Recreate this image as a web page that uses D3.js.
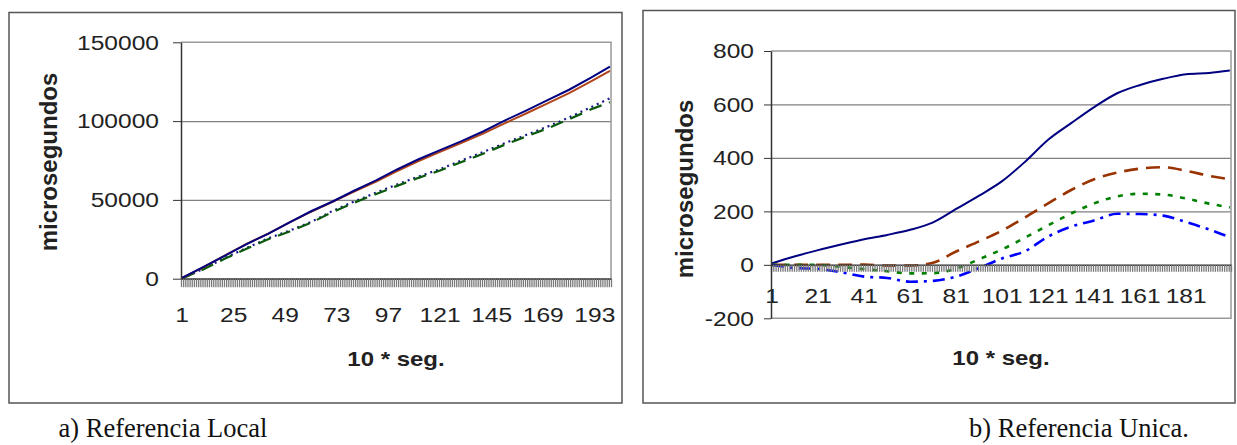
<!DOCTYPE html>
<html>
<head>
<meta charset="utf-8">
<script src="https://cdn.jsdelivr.net/npm/d3@7"></script>
<style>
body { margin: 0; background: #fff; }
svg { display: block; font-family: "Liberation Sans", Arial, sans-serif; }
</style>
</head>
<body>
<svg id="fig" width="1237" height="445"></svg>
<script>
// 200 samples on the x axis (10 * seg.)
let nCats = 200;
let categories = d3.range(1, nCats + 1);

let sampleCats = [1, 11, 21, 31, 41, 51, 61, 71, 81, 91, 101, 111, 121, 131, 141, 151, 161, 171, 181, 191, 200];

// a) Referencia Local
let localNavy  = [500, 7500, 14700, 22000, 28500, 35800, 42800, 49000, 55800, 62200, 69300, 75800, 81600, 87300, 93400, 100300, 106700, 113300, 119900, 127500, 134500];
let localBrown = [500, 7400, 14800, 22100, 28600, 35700, 42500, 48700, 55200, 61500, 68300, 74700, 80500, 86200, 92000, 98600, 104800, 111200, 117700, 125000, 131900];
let localBlue  = [300, 6300, 13200, 19500, 25600, 30500, 36000, 43000, 49000, 54500, 59800, 64800, 69500, 75000, 80300, 86000, 91200, 96500, 102300, 108700, 114500];
let localGreen = [200, 6000, 12800, 19000, 25000, 30000, 35500, 42300, 48200, 53600, 58900, 64000, 68700, 74000, 79300, 85000, 90200, 95400, 101200, 107300, 112000];

// b) Referencia Unica
let unicaNavy  = [6, 32, 55, 76, 96, 112, 131, 159, 209, 259, 313, 386, 468, 530, 590, 642, 673, 696, 713, 718, 727];
let unicaBrown = [0, 0, 0, 0, 1, -3, -3, 8, 50, 88, 128, 178, 230, 280, 320, 345, 360, 365, 352, 333, 320];
let unicaGreen = [0, 0, 0, -8, -16, -24, -32, -31, -14, 21, 58, 102, 148, 192, 230, 256, 266, 263, 248, 229, 215];
let unicaBlue  = [0, -12, -15, -28, -44, -49, -63, -60, -44, -12, 24, 51, 106, 143, 166, 191, 190, 184, 160, 132, 103];

let localXTicks = [1, 25, 49, 73, 97, 121, 145, 169, 193];
let unicaXTicks = [1, 21, 41, 61, 81, 101, 121, 141, 161, 181];
let localYTicks = [0, 50000, 100000, 150000];
let unicaYTicks = [-200, 0, 200, 400, 600, 800];

let SX = 1.17; // the chart pictures are stretched sideways

let svg = d3.select("#fig");

function stretch(sel) {
	sel.attr("transform", function() {
		let tx = +this.getAttribute("x") || 0;
		return `translate(${tx},0) scale(${SX},1) translate(${-tx},0)`;
	});
}

function toPoints(vals) {
	return sampleCats.map((c, i) => ({ c: c, v: vals[i] }));
}

function drawChart(c) {
	let g = svg.append("g");

	g.append("rect")
		.attr("x", c.frame[0]).attr("y", c.frame[1])
		.attr("width", c.frame[2]).attr("height", c.frame[3])
		.attr("fill", "none").attr("stroke", "#555").attr("stroke-width", 1.5);

	let x = d3.scaleLinear().domain([0.5, nCats + 0.5]).range([c.l, c.r]);
	let y = d3.scaleLinear().domain(c.yDomain).range([c.b, c.t]);

	// grid lines
	g.append("g")
		.attr("transform", `translate(${c.l},0)`)
		.call(d3.axisLeft(y).tickValues(c.grid).tickSize(-(c.r - c.l)).tickFormat(""))
		.call(a => a.select(".domain").remove())
		.selectAll("line").attr("stroke", "#808080").attr("stroke-width", 1.2);

	// plot border
	g.append("path")
		.attr("d", `M${c.l},${c.t}H${c.r}V${c.b}H${c.l}`)
		.attr("fill", "none").attr("stroke", "#999").attr("stroke-width", 1.5);

	// series
	let line = d3.line().x(d => x(d.c)).y(d => y(d.v)).curve(c.curve);
	c.series.forEach(s => {
		g.append("path")
			.datum(toPoints(s.values))
			.attr("d", line)
			.attr("fill", "none")
			.attr("stroke", s.color)
			.attr("stroke-width", s.width)
			.attr("stroke-dasharray", s.dash);
	});

	// x axis at zero, one tick between every category
	let xa = g.append("g")
		.attr("transform", `translate(0,${y(0)})`)
		.call(d3.axisBottom(x).tickValues(d3.range(0.5, nCats + 1, 1)).tickSize(c.xTickLen).tickSizeOuter(0).tickFormat(""));
	xa.selectAll(".tick line").attr("stroke", "#7a7a7a").attr("stroke-width", 1.3);
	xa.select(".domain").attr("stroke", "#333").attr("stroke-width", 1.5);

	g.selectAll(".xlab")
		.data(c.xTicks)
		.join("text")
		.attr("x", d => x(d))
		.attr("y", c.xLabelY)
		.attr("text-anchor", "middle")
		.attr("dominant-baseline", "central")
		.attr("font-size", 21)
		.attr("fill", "#222")
		.text(d => d)
		.call(stretch);

	// y axis
	let ya = g.append("g")
		.attr("transform", `translate(${c.l},0)`)
		.call(d3.axisLeft(y).tickValues(c.yTicks).tickSize(c.yTickLen).tickSizeOuter(0)
			.tickPadding(c.yPad).tickFormat(d => String(d)));
	ya.attr("font-size", 21).attr("font-family", null);
	ya.select(".domain").attr("stroke", "#333").attr("stroke-width", 1.5);
	ya.selectAll(".tick line").attr("stroke", "#333");
	ya.selectAll("text").attr("fill", "#222").call(stretch);

	// titles
	g.append("text")
		.attr("transform", `translate(${c.yTitle[0]},${c.yTitle[1]}) rotate(-90)`)
		.attr("text-anchor", "middle")
		.attr("dominant-baseline", "central")
		.attr("font-size", 24)
		.attr("font-weight", "bold")
		.attr("fill", "#222")
		.text("microsegundos");

	g.append("text")
		.attr("x", c.xTitle[0]).attr("y", c.xTitle[1])
		.attr("text-anchor", "middle")
		.attr("dominant-baseline", "central")
		.attr("font-size", 20.5)
		.attr("font-weight", "bold")
		.attr("fill", "#222")
		.text("10 * seg.")
		.call(stretch);
}

drawChart({
	frame: [9, 12.5, 613, 390.5],
	l: 181, r: 611, t: 42.3, b: 278.7,
	yDomain: [0, 150000],
	yTicks: localYTicks,
	grid: [50000, 100000],
	xTicks: localXTicks,
	xLabelY: 315,
	xTickLen: 8.5,
	yTickLen: 8, yPad: 14,
	curve: d3.curveLinear,
	yTitle: [48, 162],
	xTitle: [396, 359],
	series: [
		{ values: localBlue,  color: "#1a1a8c", width: 2.2, dash: "2,4" },
		{ values: localGreen, color: "#0b5a0b", width: 2.2, dash: "13,8" },
		{ values: localBrown, color: "#b0441a", width: 2, dash: null },
		{ values: localNavy,  color: "#000080", width: 2, dash: null }
	]
});

drawChart({
	frame: [643, 10.5, 592, 392.5],
	l: 771, r: 1231, t: 51, b: 318.3,
	yDomain: [-200, 800],
	yTicks: unicaYTicks,
	grid: [200, 400, 600],
	xTicks: unicaXTicks,
	xLabelY: 296,
	xTickLen: 7,
	yTickLen: 7, yPad: 10,
	curve: d3.curveMonotoneX,
	yTitle: [684, 189],
	xTitle: [1001, 358],
	series: [
		{ values: unicaNavy,  color: "#000080", width: 2, dash: null },
		{ values: unicaBrown, color: "#993300", width: 2.6, dash: "14,8" },
		{ values: unicaGreen, color: "#008000", width: 2.6, dash: "5,7.5" },
		{ values: unicaBlue,  color: "#0000ff", width: 2.6, dash: "12,6,3,6" }
	]
});

// captions
svg.append("text")
	.attr("x", 163).attr("y", 437)
	.attr("text-anchor", "middle")
	.attr("font-family", "'Liberation Serif', 'Times New Roman', serif")
	.attr("font-size", 26.5)
	.attr("fill", "#111")
	.text("a) Referencia Local");

svg.append("text")
	.attr("x", 1079).attr("y", 437)
	.attr("text-anchor", "middle")
	.attr("font-family", "'Liberation Serif', 'Times New Roman', serif")
	.attr("font-size", 26.5)
	.attr("fill", "#111")
	.text("b) Referencia Unica.");
</script>
</body>
</html>
